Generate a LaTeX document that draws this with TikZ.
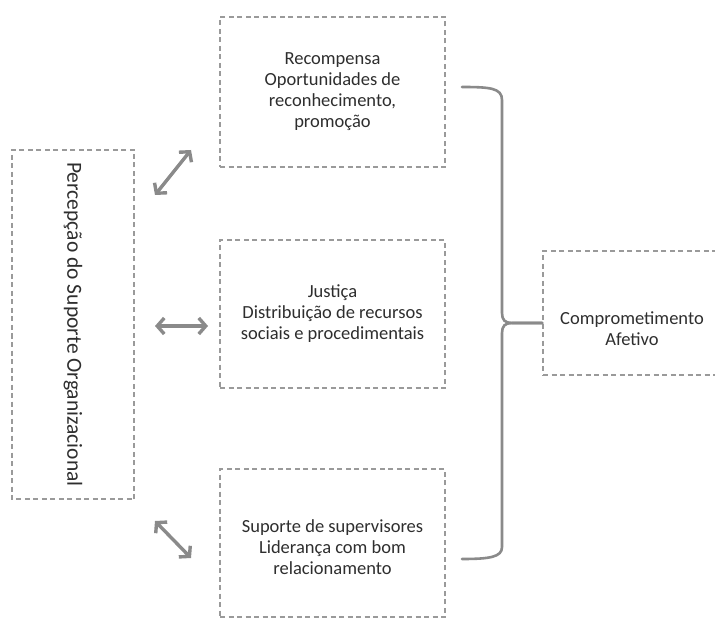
\documentclass[tikz,border=0pt]{standalone}
\usepackage{fontspec}
\setmainfont{Carlito}
\usetikzlibrary{arrows.meta}
\definecolor{boxline}{HTML}{9A9A9A}
\definecolor{linkgray}{HTML}{8A8A8A}
\definecolor{txt}{HTML}{2E2E2E}
\begin{document}
\begin{tikzpicture}[x=1bp,y=-1bp,
  dbox/.style={draw=boxline, line width=1.3bp, dash pattern=on 5bp off 3.5bp,
    inner sep=0pt, align=center, text=txt,
    font=\fontsize{18.5bp}{21bp}\selectfont},
  plain/.style={inner sep=0pt, align=center, text=txt,
    font=\fontsize{18.5bp}{21bp}\selectfont},
  link/.style={draw=linkgray, line width=3.4bp,
    {Straight Barb[length=7bp,width=16bp]}-{Straight Barb[length=7bp,width=16bp]}},
  brace/.style={draw=linkgray, line width=2.6bp, line join=round, line cap=round}]
\clip (0,0) rectangle (715,619);
\fill[white] (0,0) rectangle (715,619);

% left: perceived organizational support (vertical text)
\node[dbox, rotate=-90, minimum width=349bp, minimum height=122bp,
  font=\fontsize{21.5bp}{24bp}\selectfont] (psup) at (73,324.5)
  {Percepção do Suporte Organizacional};

% middle column
\node[dbox, minimum width=225bp, minimum height=150bp] (rec) at (332.5,92)
  {Recompensa\\Oportunidades de\\reconhecimento,\\promoção};
\node[dbox, minimum width=225bp, minimum height=148bp] (jus) at (332.5,314)
  {Justiça\\Distribuição de recursos\\sociais e procedimentais};
\node[dbox, minimum width=225bp, minimum height=148bp] (sup) at (332.5,543) {};
\node[plain] (suptxt) at (332.5,547)
  {Suporte de supervisores\\Liderança com bom\\relacionamento};

% right: affective commitment
\node[dbox, minimum width=178bp, minimum height=124bp] (com) at (632,313) {};
\node[plain] (comtxt) at (632,329) {Comprometimento\\Afetivo};

% two-way arrows
\coordinate (a1s) at (155,195);  \coordinate (a1e) at (191,150);
\coordinate (a2s) at (155,326);  \coordinate (a2e) at (208,326);
\coordinate (a3s) at (155,521);  \coordinate (a3e) at (191,558);
\draw[link] (a1s) -- (a1e);
\draw[link] (a2s) -- (a2e);
\draw[link] (a3s) -- (a3e);

% brace gathering the three factors
\coordinate (bt) at (462,87);
\coordinate (bb) at (462,559);
\coordinate (tip) at ([yshift=-10bp]com.west);
\draw[brace] (bt) .. controls (490,87) and (502,88) .. (502,100)
  -- (502,313) .. controls (502,320) and (505,323) .. (512,323) -- (tip);
\draw[brace] (bb) .. controls (490,559) and (502,557) .. (502,547)
  -- (502,333) .. controls (502,326) and (505,323) .. (512,323) -- (tip);
\end{tikzpicture}
\end{document}
